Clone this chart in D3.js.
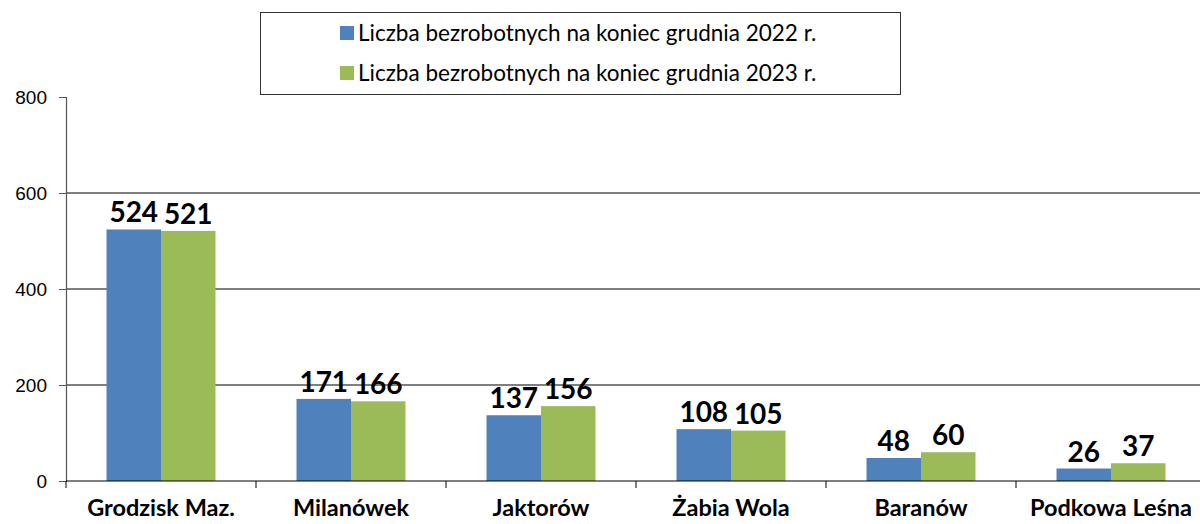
<!DOCTYPE html>
<html lang="pl">
  <head>
    <meta charset="UTF-8" />
    <title>Liczba bezrobotnych</title>
    <style>
      body { margin: 0; background: #fff; font-family: Lato, "Open Sans", sans-serif; }
      svg { display: block; }
      .tick-label { font-size: 19px; fill: #000; }
      .cat-label { font-size: 23.5px; font-weight: bold; fill: #000; }
      .value { font-size: 28px; font-weight: bold; fill: #000; }
      .legend-text { font-size: 22.5px; fill: #000; }
    </style>
  </head>
  <body>
    <svg width="1200" height="524"></svg>
    <script src="https://d3js.org/d3.v7.min.js"></script>
    <script>
      const categories = ["Grodzisk Maz.", "Milanówek", "Jaktorów", "Żabia Wola", "Baranów", "Podkowa Leśna"];
      const series2022 = [524, 171, 137, 108, 48, 26];
      const series2023 = [521, 166, 156, 105, 60, 37];
      const seriesNames = ["Liczba bezrobotnych na koniec grudnia 2022 r.", "Liczba bezrobotnych na koniec grudnia 2023 r."];
      const colors = ["#4f81bd", "#9bbb59"];
      const yTicks = [0, 200, 400, 600, 800];

      const svg = d3.select("svg");
      const plotLeft = 66, plotRight = 1206, plotTop = 97, plotBottom = 481;

      const x = d3.scaleBand().domain(categories).range([plotLeft, plotRight]);
      const y = d3.scaleLinear().domain([0, 800]).range([plotBottom, plotTop]);
      const barW = 54.5;

      // gridlines
      svg.append("g")
        .selectAll("line")
        .data(yTicks.filter((d) => d > 0 && d < 800))
        .join("line")
        .attr("x1", plotLeft).attr("x2", 1200)
        .attr("y1", (d) => y(d)).attr("y2", (d) => y(d))
        .attr("stroke", "#000").attr("stroke-width", 1.2);

      // y axis
      const yAxis = svg.append("g").attr("transform", `translate(${plotLeft},0)`)
        .call(d3.axisLeft(y).tickValues(yTicks).tickSize(7).tickPadding(12));
      yAxis.select(".domain").attr("stroke", "#555").attr("stroke-width", 1.2);
      yAxis.selectAll(".tick line").attr("stroke", "#555");
      yAxis.selectAll("text").attr("class", "tick-label").attr("font-family", null).attr("font-size", null);

      // bars
      const groups = svg.append("g").selectAll("g")
        .data(categories)
        .join("g")
        .attr("transform", (d) => `translate(${x(d) + x.bandwidth() / 2},0)`);

      [series2022, series2023].forEach((vals, s) => {
        groups.append("rect")
          .attr("x", s === 0 ? -barW : 0)
          .attr("width", barW)
          .attr("y", (d, i) => y(vals[i]))
          .attr("height", (d, i) => plotBottom - y(vals[i]))
          .attr("fill", colors[s]);
        groups.append("text")
          .attr("class", "value")
          .attr("x", s === 0 ? -barW / 2 : barW / 2)
          .attr("y", (d, i) => y(vals[i]) - 7)
          .attr("text-anchor", "middle")
          .text((d, i) => vals[i]);
      });

      // x axis
      svg.append("line")
        .attr("x1", plotLeft).attr("x2", 1200)
        .attr("y1", plotBottom).attr("y2", plotBottom)
        .attr("stroke", "#000").attr("stroke-width", 1.2);
      svg.append("g").selectAll("line")
        .data(categories)
        .join("line")
        .attr("x1", (d) => x(d)).attr("x2", (d) => x(d))
        .attr("y1", plotBottom).attr("y2", plotBottom + 7)
        .attr("stroke", "#000");
      svg.append("g").selectAll("text")
        .data(categories)
        .join("text")
        .attr("class", "cat-label")
        .attr("x", (d) => x(d) + x.bandwidth() / 2)
        .attr("y", 516)
        .attr("text-anchor", "middle")
        .text((d) => d);

      // legend
      const lg = svg.append("g");
      lg.append("rect")
        .attr("x", 260.5).attr("y", 12.5).attr("width", 640).attr("height", 82)
        .attr("fill", "#fff").attr("stroke", "#333");
      seriesNames.forEach((name, i) => {
        const cy = 33 + i * 40;
        lg.append("rect").attr("x", 340).attr("y", cy - 7).attr("width", 14).attr("height", 14).attr("fill", colors[i]);
        lg.append("text").attr("class", "legend-text").attr("x", 358).attr("y", cy + 8).text(name);
      });
    </script>
  </body>
</html>
